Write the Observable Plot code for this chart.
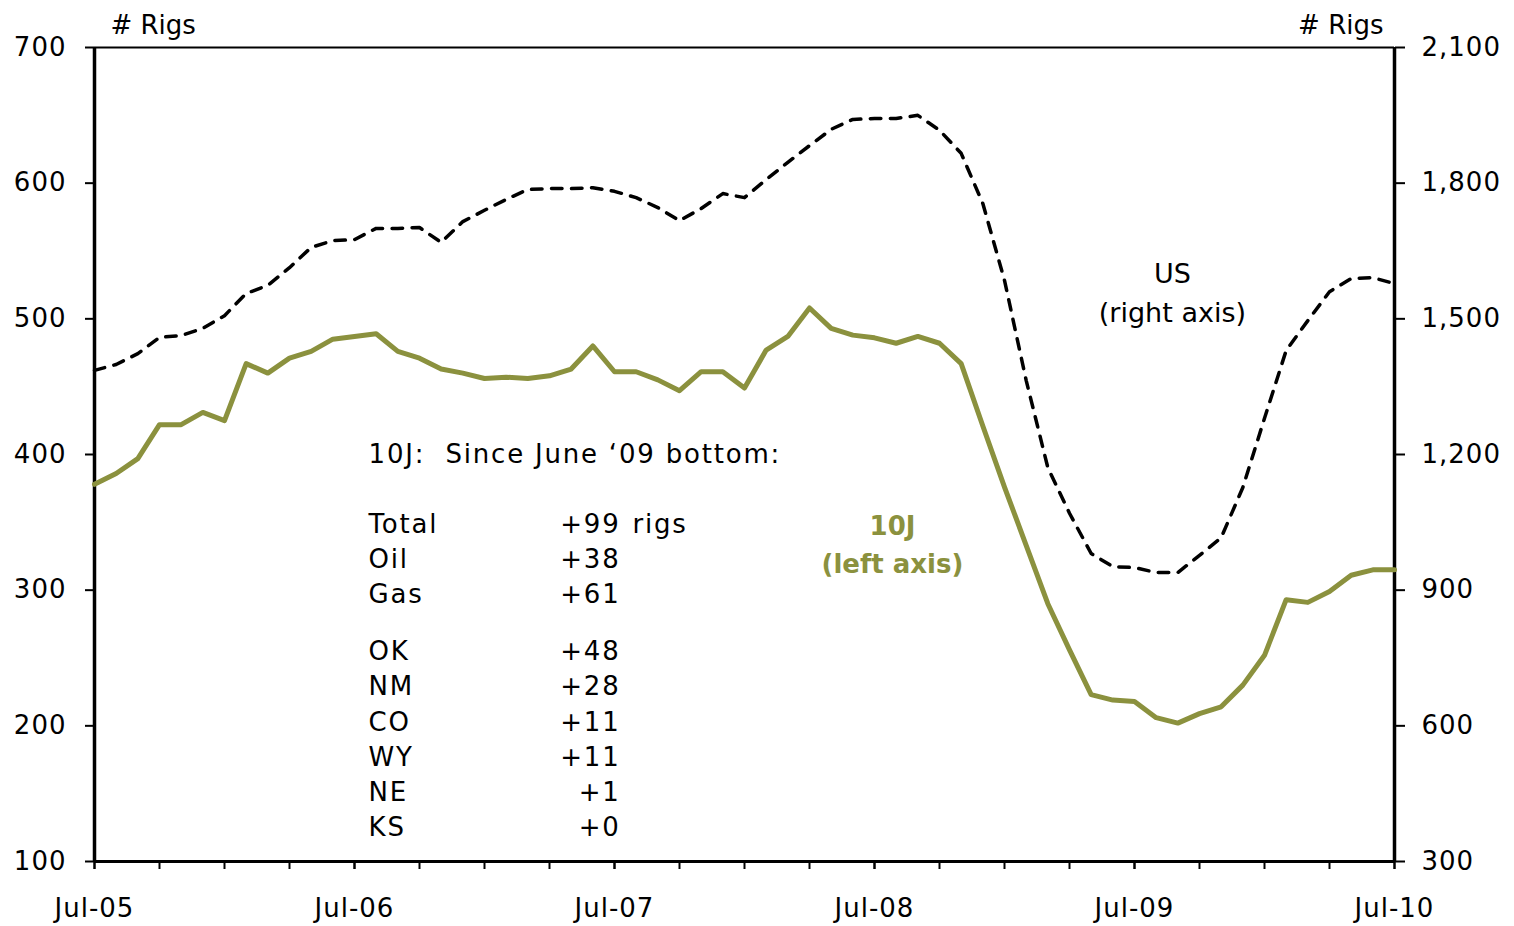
<!DOCTYPE html>
<html>
<head>
<meta charset="utf-8">
<script src="https://cdn.jsdelivr.net/npm/d3@7"></script>
<script src="https://cdn.jsdelivr.net/npm/@observablehq/plot@0.6"></script>
<style>
  html, body { margin: 0; padding: 0; background: #fff; overflow: hidden; }
  g[font-family*="Verdana"], g[font-family*="Verdana"] text { letter-spacing: 1.8px; }
  g[aria-label$="tick label"], g[aria-label$="tick label"] text { letter-spacing: 1px; }
</style>
</head>
<body>
<div id="chart"></div>
<script>
// ---- Data ----
// Monthly, Jul-05 .. Jul-10 (61 months)
const months = d3.utcMonth.range(new Date(Date.UTC(2005, 6, 1)), new Date(Date.UTC(2010, 7, 1)));

// 10J rig count (left axis)
const rigs10J = [
  378, 386, 397, 422, 422, 431, 425, 467, 460, 471,
  476, 485, 487, 489, 476, 471, 463, 460, 456, 457,
  456, 458, 463, 480, 461, 461, 455, 447, 461, 461,
  449, 477, 487, 508, 493, 488, 486, 482, 487, 482,
  467, 421, 376, 333, 290, 256, 223, 219, 218, 206,
  202, 209, 214, 230, 252, 293, 291, 299, 311, 315, 315
];

// US rig count (right axis)
const rigsUS = [
  1386, 1399, 1423, 1459, 1463, 1479, 1507, 1556, 1574, 1613,
  1658, 1673, 1675, 1700, 1700, 1702, 1669, 1715, 1740, 1764,
  1786, 1788, 1788, 1790, 1782, 1768, 1746, 1717, 1744, 1777,
  1768, 1808, 1846, 1883, 1919, 1941, 1943, 1943, 1950, 1917,
  1866, 1755, 1585, 1364, 1171, 1070, 981, 952, 950, 939,
  939, 977, 1016, 1127, 1280, 1430, 1496, 1560, 1589, 1591, 1578
];

const xTickLabels = ["Jul-05", "Jul-06", "Jul-07", "Jul-08", "Jul-09", "Jul-10"];
const leftTicks = [100, 200, 300, 400, 500, 600, 700];
const rightTicks = [300, 600, 900, 1200, 1500, 1800, 2100];

const statLabels = ["Total", "Oil", "Gas", "OK", "NM", "CO", "WY", "NE", "KS"];
const statValues = [99, 38, 61, 48, 28, 11, 11, 1, 0];

// ---- Build ----
const olive = "#8B913E";
const statFont = "'DejaVu Sans', Verdana, sans-serif";
const toLeft = v => 100 + (v - 300) / 3;    // right-axis value -> left-axis scale
const toRight = v => 300 + (v - 100) * 3;

const data = months.map((m, i) => ({i, month: m, j: rigs10J[i], us: rigsUS[i]}));
const xMajor = xTickLabels.map((_, k) => k * 12);
const xMinor = d3.range(0, 61, 3);
const statRows = statLabels.map((label, k) => ({label, value: statValues[k], k}));
const rowY = k => 342.5 - 26 * k - (k >= 3 ? 16 : 0);

const chart = Plot.plot({
  width: 1514,
  height: 926,
  marginLeft: 94,
  marginRight: 120,
  marginTop: 47,
  marginBottom: 65,
  style: {fontFamily: "'DejaVu Sans', sans-serif", fontSize: "26px", color: "#000", background: "#fff", overflow: "visible"},
  x: {domain: [0, 60]},
  y: {domain: [100, 700]},
  marks: [
    Plot.axisX(xMinor, {tickSize: 8, strokeWidth: 2, tickFormat: () => "", label: null}),
    Plot.axisX(xMajor, {tickSize: 8, strokeWidth: 2, tickPadding: 29, tickFormat: d => xTickLabels[d / 12], label: null}),
    Plot.axisY(leftTicks, {anchor: "left", tickSize: 9, strokeWidth: 2, tickPadding: 19, label: null}),
    Plot.axisY(rightTicks.map(toLeft), {anchor: "right", tickSize: 10, strokeWidth: 2, tickPadding: 17, tickFormat: d => d3.format(",")(toRight(d)), label: null}),
    Plot.ruleY([700], {strokeWidth: 2}),
    Plot.ruleY([100], {strokeWidth: 3}),
    Plot.ruleX([0, 60], {strokeWidth: 3.5}),
    Plot.line(data, {x: "i", y: d => toLeft(d.us), stroke: "#000", strokeWidth: 3.5, strokeDasharray: "10.5,9.5", strokeLinecap: "round"}),
    Plot.line(data, {x: "i", y: "j", stroke: olive, strokeWidth: 5}),
    // axis titles
    Plot.text(["# Rigs"], {frameAnchor: "top-left", text: d => d, dx: 16, dy: -14, textAnchor: "start", lineAnchor: "bottom"}),
    Plot.text(["# Rigs"], {frameAnchor: "top-right", text: d => d, dx: -11, dy: -14, textAnchor: "end", lineAnchor: "bottom"}),
    // series annotations
    Plot.text(["US"], {x: () => 49.75, y: () => 526.3, text: d => d, textAnchor: "middle", lineAnchor: "bottom", fontSize: 27}),
    Plot.text(["(right axis)"], {x: () => 49.75, y: () => 497.5, text: d => d, textAnchor: "middle", lineAnchor: "bottom", fontSize: 27}),
    Plot.text(["10J"], {x: () => 36.83, y: () => 340.3, text: d => d, textAnchor: "middle", lineAnchor: "bottom", fill: olive, fontWeight: "bold", fontSize: 26}),
    Plot.text(["(left axis)"], {x: () => 36.83, y: () => 313, text: d => d, textAnchor: "middle", lineAnchor: "bottom", fill: olive, fontWeight: "bold", fontSize: 26}),
    // stats block
    Plot.text(["10J:  Since June \u201809 bottom:"], {x: () => 12.65, y: () => 394.1, text: d => d, textAnchor: "start", lineAnchor: "bottom", fontFamily: statFont}),
    Plot.text(statRows, {x: () => 12.65, y: d => rowY(d.k), text: "label", textAnchor: "start", lineAnchor: "bottom", fontFamily: statFont}),
    Plot.text(statRows, {x: () => 24.28, y: d => rowY(d.k), text: d => "+" + d.value, textAnchor: "end", lineAnchor: "bottom", fontFamily: statFont}),
    Plot.text(["rigs"], {x: () => 24.83, y: () => rowY(0), text: d => d, textAnchor: "start", lineAnchor: "bottom", fontFamily: statFont})
  ]
});

document.getElementById("chart").appendChild(chart);
</script>
</body>
</html>
